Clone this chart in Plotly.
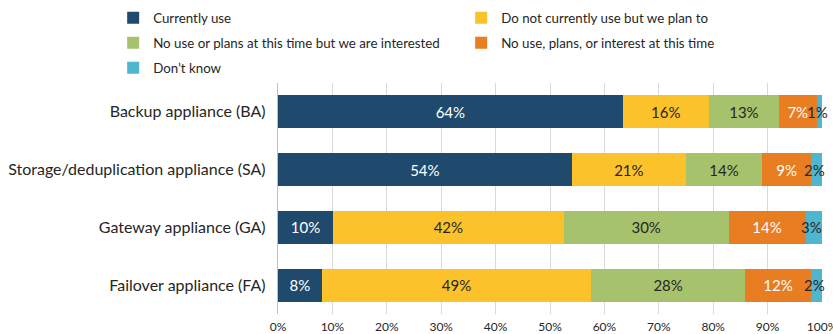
import plotly.graph_objects as go

categories = ["Backup appliance (BA)", "Storage/deduplication appliance (SA)",
              "Gateway appliance (GA)", "Failover appliance (FA)"]
series_names = ["Currently use", "Do not currently use but we plan to",
                "No use or plans at this time but we are interested",
                "No use, plans, or interest at this time", "Don\u2019t know"]
currently_use = [64, 54, 10, 8]
plan_to = [16, 21, 42, 49]
interested = [13, 14, 30, 28]
no_interest = [7, 9, 14, 12]
dont_know = [1, 2, 3, 2]
tick_vals = [0, 10, 20, 30, 40, 50, 60, 70, 80, 90, 100]
tick_text = [f"{v}%" for v in tick_vals]

series = [currently_use, plan_to, interested, no_interest, dont_know]
colors = ["#1f4a6e", "#fcc22b", "#a7c26c", "#e87d22", "#4fb6cf"]
text_colors = ["white", "#262626", "#262626", "white", "#262626"]
legend_ids = ["legend", "legend", "legend2", "legend2", "legend3"]
FONT = "Lato, Open Sans, sans-serif"

fig = go.Figure()
for i, (name, vals) in enumerate(zip(series_names, series)):
    last = i == len(series) - 1
    fig.add_trace(go.Bar(
        y=categories, x=vals, name=name, orientation="h",
        marker=dict(color=colors[i], line=dict(width=0)),
        text=None if last else [f"{v}%" for v in vals],
        textposition="inside", insidetextanchor="middle",
        textfont=dict(color=text_colors[i], size=15, family=FONT),
        hoverinfo="skip", legend=legend_ids[i],
    ))

# labels for the tiny last segment, centred on it
totals = [sum(s[j] for s in series) for j in range(len(categories))]
for j, cat in enumerate(categories):
    share = dont_know[j] / totals[j] * 100
    fig.add_annotation(x=100 - share / 2, y=cat, text=f"{dont_know[j]}%",
                       showarrow=False, xanchor="center", xshift=-2,
                       font=dict(color="#262626", size=15, family=FONT))

def legend_row(yc):
    return dict(orientation="h", x=-0.303, y=yc, xanchor="left", yanchor="middle",
                entrywidth=303, traceorder="normal",
                font=dict(size=13.3, color="#262626", family=FONT), itemwidth=30,
                bgcolor="rgba(0,0,0,0)")

fig.update_layout(
    width=833, height=334,
    barmode="stack", barnorm="percent", bargap=0.43,
    margin=dict(l=278, r=11, t=83, b=20, autoexpand=False),
    paper_bgcolor="white", plot_bgcolor="white",
    font=dict(family=FONT, size=13, color="#262626"),
    showlegend=True,
    legend=legend_row(1 + (83 - 18) / 231),
    legend2=legend_row(1 + (83 - 43) / 231),
    legend3=legend_row(1 + (83 - 68) / 231),
    xaxis=dict(range=[0, 100], tickvals=tick_vals, ticktext=tick_text,
               showgrid=True, gridcolor="#d9d9d9", gridwidth=1,
               zeroline=False, showline=False, ticks="",
               ticklabeloverflow="allow", ticklabelstandoff=4,
               tickfont=dict(size=12, color="#262626"), fixedrange=True),
    yaxis=dict(autorange="reversed", showgrid=False, ticks="",
               showline=True, linecolor="#bfbfbf", linewidth=1,
               tickfont=dict(size=16, color="#262626"), ticksuffix="  "),
)

fig.write_html("out.html")
